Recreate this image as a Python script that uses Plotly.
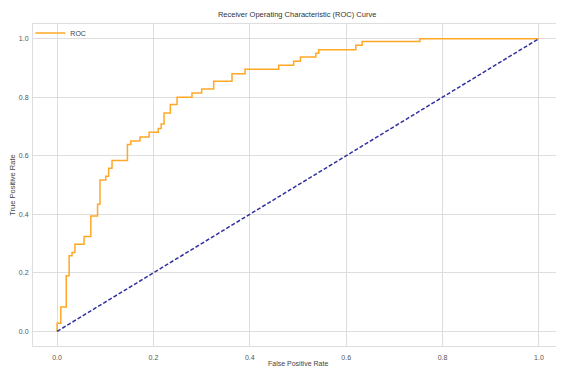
import plotly.graph_objects as go

# ROC corner points (false positive rate, true positive rate)
fpr = [0.0, 0.0, 0.0077, 0.019, 0.025, 0.031, 0.037, 0.056, 0.070, 0.084, 0.089,
       0.101, 0.107, 0.114, 0.146, 0.153, 0.172, 0.191, 0.210, 0.216, 0.222,
       0.235, 0.249, 0.280, 0.300, 0.325, 0.363, 0.390, 0.460, 0.491, 0.505,
       0.537, 0.543, 0.620, 0.633, 0.753, 1.0]
tpr = [0.0, 0.028, 0.083, 0.190, 0.258, 0.269, 0.298, 0.324, 0.394, 0.434, 0.517,
       0.530, 0.557, 0.584, 0.638, 0.650, 0.664, 0.680, 0.693, 0.708, 0.746,
       0.775, 0.800, 0.814, 0.828, 0.854, 0.880, 0.895, 0.909, 0.923, 0.937,
       0.950, 0.962, 0.977, 0.990, 1.000, 1.0]
diag_x = [0.0, 1.0]
diag_y = [0.0, 1.0]
tick_vals = [0.0, 0.2, 0.4, 0.6, 0.8, 1.0]
tick_text = ["0.0", "0.2", "0.4", "0.6", "0.8", "1.0"]

FONT = "Liberation Sans, Arial, sans-serif"

fig = go.Figure()
fig.add_trace(go.Scatter(x=fpr, y=tpr, mode="lines", name="ROC",
                         line=dict(color="#FFA826", width=1.5, shape="hv")))
fig.add_trace(go.Scatter(x=diag_x, y=diag_y, mode="lines", showlegend=False,
                         line=dict(color="#3030a0", width=1.5, dash="4px,2px")))

axis_common = dict(
    showgrid=True, gridcolor="#dedede", gridwidth=1,
    zeroline=False, showline=True, linecolor="#dedede", linewidth=1, mirror=True,
    tickvals=tick_vals, ticktext=tick_text, ticks="",
    tickfont=dict(family=FONT, size=7, color="#555555"),
    automargin=False,
)

fig.update_layout(
    width=556, height=358,
    margin=dict(l=25, r=1, t=15.5, b=19.5),
    paper_bgcolor="white", plot_bgcolor="white",
    title=dict(text="Receiver Operating Characteristic (ROC) Curve",
               x=0.52, xanchor="center", y=0.983, yanchor="middle",
               font=dict(family=FONT, size=7.5, color="#333333")),
    xaxis=dict(range=[-0.05, 1.05], ticklabelstandoff=5, **axis_common),
    yaxis=dict(range=[-0.05, 1.05], ticklabelstandoff=2,
               title=dict(text="True Positive Rate", standoff=3,
                          font=dict(family=FONT, size=7.5, color="#444444")),
               **axis_common),
    legend=dict(x=-0.005, y=1.017, xanchor="left", yanchor="top",
                bgcolor="rgba(0,0,0,0)", font=dict(family=FONT, size=7, color="#444444"),
                itemwidth=30, tracegroupgap=0),
    showlegend=True,
    annotations=[dict(text="False Positive Rate", xref="paper", yref="paper",
                      x=0.5, y=-0.041, xanchor="center", yanchor="top",
                      showarrow=False, borderpad=0,
                      font=dict(family=FONT, size=7, color="#444444"))],
)

fig.write_html("out.html")
